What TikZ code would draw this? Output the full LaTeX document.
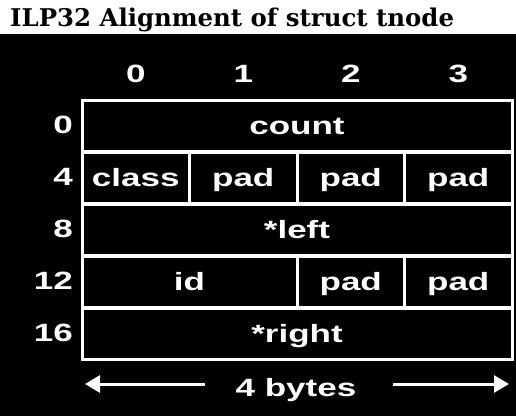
\documentclass[tikz,border=0pt]{standalone}
\usepackage{fontspec}
\setmainfont{Liberation Serif}
\newfontfamily\titlefont{DejaVu Serif}
\newfontfamily\labelfont[FakeStretch=1.4]{Liberation Sans Bold}
\usetikzlibrary{arrows.meta}
\begin{document}
\begin{tikzpicture}[x=1pt,y=-1pt,
  cell/.style={draw=white,line width=3pt,text=white,inner sep=0pt,
    text height=20pt,text depth=4pt,
    minimum height=51.9pt,font=\labelfont\fontsize{25}{25}\selectfont},
  one/.style={cell,minimum width=107.5pt},
  two/.style={cell,minimum width=215pt},
  four/.style={cell,minimum width=430pt},
  axis/.style={text=white,inner sep=0pt,font=\labelfont\fontsize{25}{25}\selectfont},
  dimarrow/.style={draw=white,line width=3pt,-{Triangle[length=15pt,width=17pt]}}]
\useasboundingbox (0,0) rectangle (516,416);
\fill[black] (0,34) rectangle (516,416);
% title
\node[anchor=base west,inner sep=0pt,font=\titlefont\bfseries\fontsize{24.4}{25}\selectfont] (title) at (10,26.7) {ILP32 Alignment of struct tnode};
% byte column headers
\node[axis,anchor=base] (c0) at (135.75,82.3) {0};
\node[axis,anchor=base] (c1) at (243.25,82.3) {1};
\node[axis,anchor=base] (c2) at (350.75,82.3) {2};
\node[axis,anchor=base] (c3) at (458.25,82.3) {3};
% offset labels
\node[axis,anchor=base east] (r0) at (73,133.3) {0};
\node[axis,anchor=base east] (r4) at (73,185.3) {4};
\node[axis,anchor=base east] (r8) at (73,237.3) {8};
\node[axis,anchor=base east] (r12) at (73,289.5) {12};
\node[axis,anchor=base east] (r16) at (73,341.5) {16};
% struct fields
\node[four] (count) at (297,126) {count};
\node[one] (class) at (135.75,178) {class};
\node[one] (pad1) at (243.25,178) {pad};
\node[one] (pad2) at (350.75,178) {pad};
\node[one] (pad3) at (458.25,178) {pad};
\node[four] (left) at (297,230) {*left};
\node[two] (id) at (189.5,282) {id};
\node[one] (pad4) at (350.75,282) {pad};
\node[one] (pad5) at (458.25,282) {pad};
\node[four] (right) at (297,334) {*right};
% width marker
\node[axis,anchor=base] (bytes) at (296,396) {4 bytes};
\coordinate (ls) at (205,384);
\coordinate (lt) at (85,384);
\coordinate (rs) at (393,384);
\coordinate (rt) at (509,384);
\draw[dimarrow] (ls) -- (lt);
\draw[dimarrow] (rs) -- (rt);
\end{tikzpicture}
\end{document}
